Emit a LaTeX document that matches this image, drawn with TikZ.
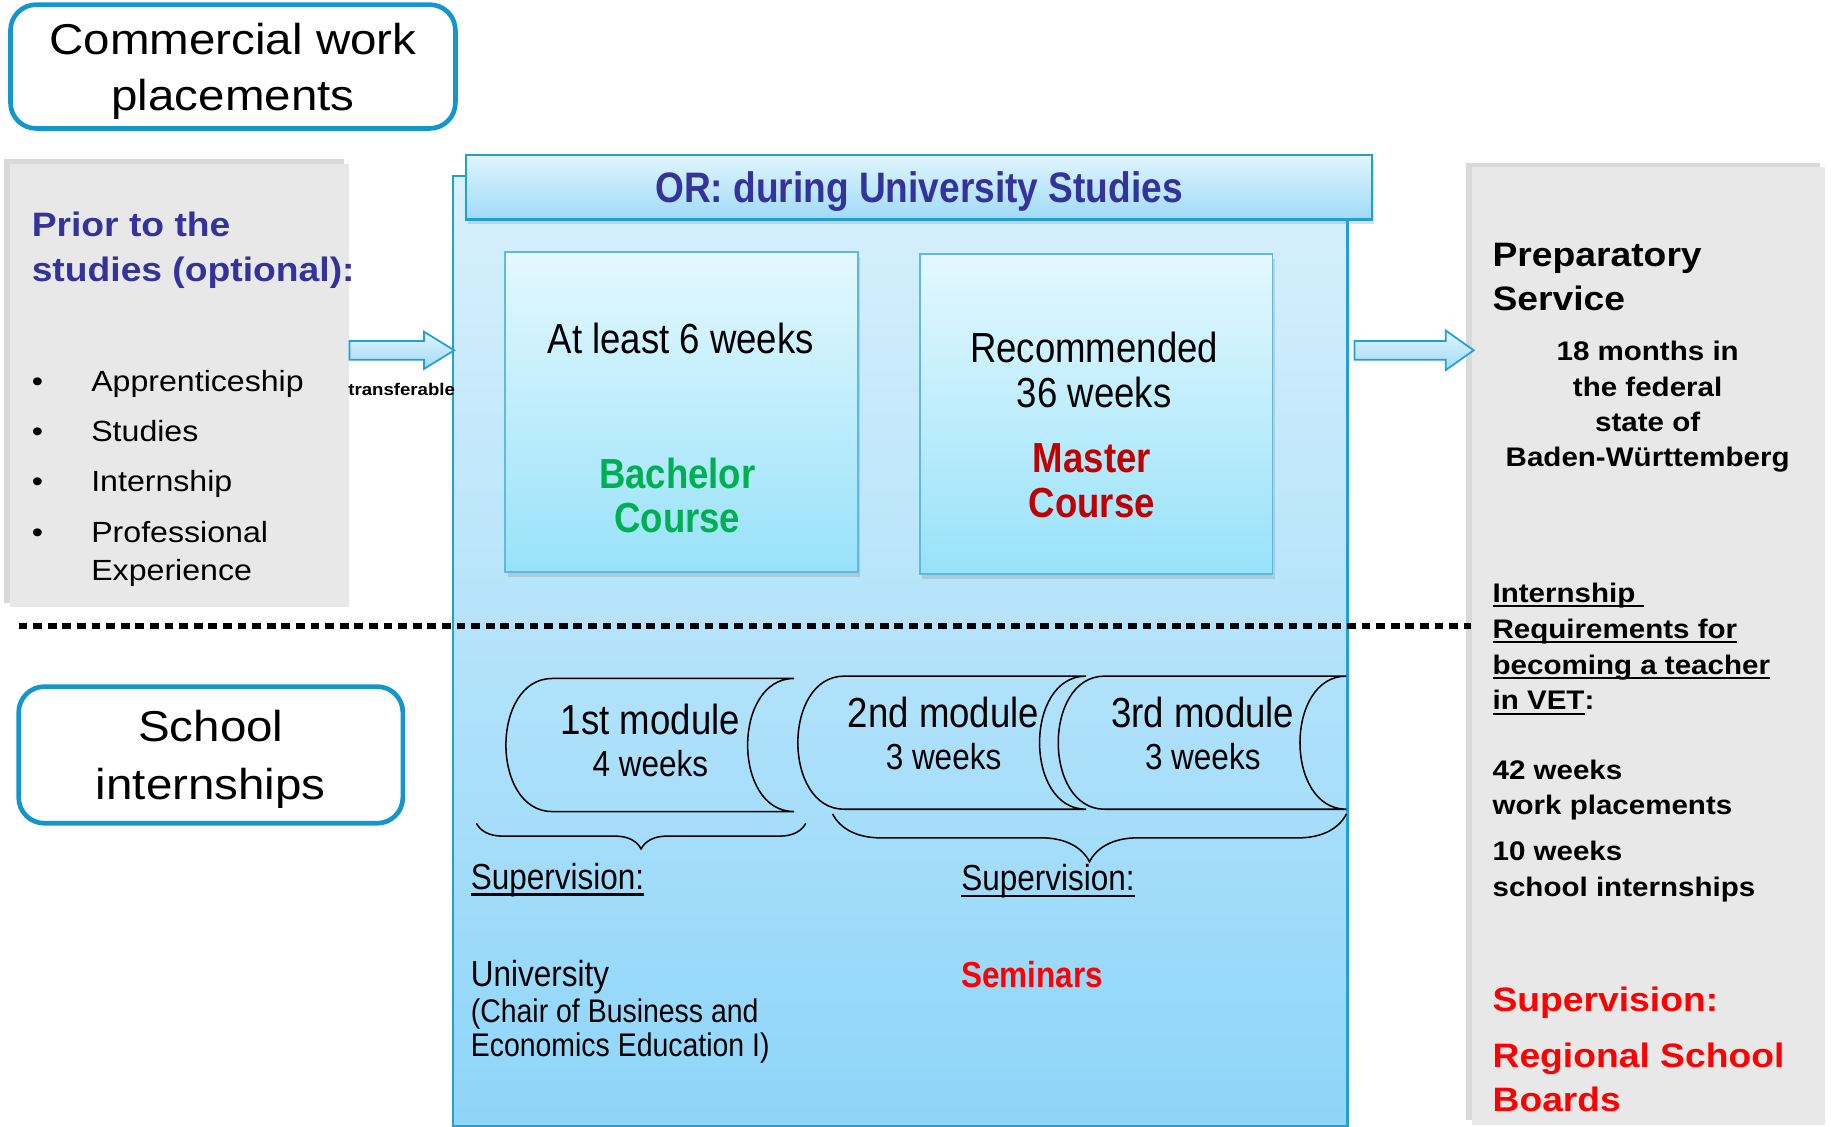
\documentclass[tikz,border=0pt]{standalone}
\usepackage{fontspec}
\setmainfont{Liberation Sans}
\newfontfamily\widefont[FakeStretch=1.1]{Liberation Sans}
\newfontfamily\narrowfont[FakeStretch=0.87]{Liberation Sans}
\usetikzlibrary{shadows,decorations.pathreplacing,calc}
\definecolor{boxblue}{RGB}{20,150,205}
\definecolor{uniline}{RGB}{35,160,210}
\definecolor{courseline}{RGB}{95,185,225}
\definecolor{unitop}{RGB}{216,240,252}
\definecolor{unibot}{RGB}{142,213,249}
\definecolor{headtop}{RGB}{224,245,254}
\definecolor{headbot}{RGB}{160,218,247}
\definecolor{coursetop}{RGB}{228,248,254}
\definecolor{coursebot}{RGB}{152,226,250}
\definecolor{headblue}{RGB}{51,51,153}
\definecolor{panelgrey}{RGB}{232,232,232}
\definecolor{bachgreen}{RGB}{0,176,80}
\definecolor{mastred}{RGB}{192,0,0}
\definecolor{supred}{RGB}{255,0,0}
\newcommand{\fs}[2]{\fontsize{#1}{#2}\selectfont}
\newsavebox\ulbox
\newcommand{\ulx}[1]{\sbox\ulbox{#1}\rlap{\rule[-0.17em]{\wd\ulbox}{0.07em}}\usebox\ulbox}

\begin{document}
\begin{tikzpicture}[x=1pt,y=-1pt,
  placebox/.style={draw=boxblue,line width=4pt,rounded corners=22pt,fill=white,align=center,inner sep=0pt,text depth=0pt},
  panel/.style={fill=panelgrey,anchor=north west,inner sep=0pt,drop shadow={shadow xshift=-5pt,shadow yshift=4pt,opacity=.3}},
  bluebox/.style={draw=uniline,line width=2pt,anchor=north west,inner sep=0pt},
  coursebox/.style={draw=courseline,line width=1.5pt,top color=coursetop,bottom color=coursebot,anchor=north west,inner sep=0pt,drop shadow={shadow xshift=2pt,shadow yshift=-4pt,opacity=.25}},
  blockarrow/.style={draw=uniline,line width=1.5pt,top color=headtop,bottom color=headbot},
  module/.style={draw=black,line width=1.3pt},
  bracket/.style={decorate,decoration={brace,mirror,amplitude=#1},line width=1.3pt},
  modtext/.style={anchor=north,align=center,inner sep=0pt,font=\narrowfont\fs{36}{36}}]
\useasboundingbox (0,0) rectangle (1568,965);

% left and right grey panels
\node[panel,minimum width=291pt,minimum height=380pt] (prior) at (8,140) {};
\node[panel,minimum width=303pt,minimum height=820pt] (prep) at (1260,143) {};

% university studies
\node[bluebox,top color=unitop,bottom color=unibot,minimum width=766pt,minimum height=813pt] (uni) at (387,150) {};
\node[bluebox,top color=headtop,bottom color=headbot,minimum width=776pt,minimum height=55pt,
  text=headblue,font=\narrowfont\bfseries\fs{36.5}{40},text depth=0pt,
  drop shadow={shadow xshift=2pt,shadow yshift=-4pt,opacity=.25}] (head) at (398,132) {OR: during University Studies};

\node[coursebox,minimum width=302pt,minimum height=274pt] (bachelor) at (432,215) {};
\node[coursebox,minimum width=302pt,minimum height=274pt] (master) at (787,217) {};
\node[anchor=base,inner sep=0pt,font=\narrowfont\fs{36}{39}] (least) at (583,303) {At least 6 weeks};
\node[anchor=north,align=center,inner sep=0pt,font=\narrowfont\fs{36}{39}] (recom) at (937,284) {Recommended\\36 weeks};
\node[anchor=north,align=center,inner sep=0pt,text=bachgreen,font=\narrowfont\bfseries\fs{36}{38}] (bachname) at (580,392) {Bachelor\\Course};
\node[anchor=north,align=center,inner sep=0pt,text=mastred,font=\narrowfont\bfseries\fs{36}{38}] (mastname) at (935,380) {Master\\Course};

% commercial / school boxes
\node[placebox,minimum width=381pt,minimum height=106pt,font=\widefont\fs{37}{48}] (commercial) at (199.5,57) {Commercial work\\placements};
\node[placebox,minimum width=329pt,minimum height=117pt,font=\widefont\fs{37}{49}] (school) at (180.5,646.5) {School\\internships};

% prior to the studies
\node[anchor=north west,align=left,inner sep=0pt,text=headblue,font=\widefont\bfseries\fs{29}{39}] (priortitle) at (27,181) {Prior to the\\studies (optional):};
\node[anchor=north west,align=left,inner sep=0pt,font=\widefont\fs{25}{43}] (priorlist) at (27,317)
  {\makebox[51pt][l]{•}Apprenticeship\\\makebox[51pt][l]{•}Studies\\\makebox[51pt][l]{•}Internship\\\makebox[51pt][l]{•}Professional\\[-10pt]\hspace*{51pt}Experience};
\node[anchor=base,inner sep=0pt,font=\widefont\bfseries\fs{14.5}{16}] (transfer) at (344,339) {transferable};

% arrows
\draw[blockarrow] (prior.east |- 0,292) -- ($(uni.west |- 0,292)+(-24,0)$) -- ($(uni.west |- 0,284)+(-24,0)$)
  -- ($(uni.west |- 0,300)+(2,0)$) -- ($(uni.west |- 0,316)+(-24,0)$) -- ($(uni.west |- 0,308)+(-24,0)$)
  -- (prior.east |- 0,308) -- cycle;
\draw[blockarrow] ($(uni.east |- 0,292)+(5,0)$) -- ($(prep.west |- 0,292)+(-22,0)$) -- ($(prep.west |- 0,283)+(-22,0)$)
  -- ($(prep.west |- 0,300)+(2,0)$) -- ($(prep.west |- 0,317)+(-22,0)$) -- ($(prep.west |- 0,308)+(-22,0)$)
  -- ($(uni.east |- 0,308)+(5,0)$) -- cycle;

% separator
\draw[line width=5pt,dash pattern=on 7.5pt off 5pt] (16,536) -- (prep.west |- 0,536);

% modules
\foreach \l/\t in {433/581, 683/579, 906/579}
  \draw[module] ({\l+40},\t) -- ({\l+247},\t)
    .. controls ({\l+194},\t) and ({\l+194},{\t+114}) .. ({\l+247},{\t+114})
    -- ({\l+40},{\t+114})
    .. controls ({\l-13},{\t+114}) and ({\l-13},\t) .. ({\l+40},\t) -- cycle;
\node[modtext] (mod1) at (557,603) {1st module\\{\fs{31}{36}4 weeks}};
\node[modtext] (mod2) at (808,597) {2nd module\\{\fs{31}{36}3 weeks}};
\node[modtext] (mod3) at (1030,597) {3rd module\\{\fs{31}{36}3 weeks}};

\coordinate (br1a) at (408,705);
\coordinate (br1b) at (690,705);
\coordinate (br2a) at (713,697);
\coordinate (br2b) at (1153,697);
\draw[bracket=22pt] (br1a) -- (br1b);
\draw[bracket=41pt] (br2a) -- (br2b);

% supervision
\node[anchor=base west,inner sep=0pt,font=\narrowfont\fs{31}{34}] (sup1) at (403,762) {\ulx{Supervision:}};
\node[anchor=base west,inner sep=0pt,font=\narrowfont\fs{31}{34}] (sup2) at (823,763) {\ulx{Supervision:}};
\node[anchor=base west,inner sep=0pt,font=\narrowfont\fs{31}{34}] (univ) at (403,845) {University};
\node[anchor=north west,align=left,inner sep=0pt,font=\narrowfont\fs{28}{29}] (chair) at (403,855) {(Chair of Business and\\Economics Education I)};
\node[anchor=base west,inner sep=0pt,text=supred,font=\narrowfont\bfseries\fs{31}{34}] (seminars) at (823,846) {Seminars};

% preparatory service
\node[anchor=north west,align=left,inner sep=0pt,font=\widefont\bfseries\fs{29}{38}] (preptitle) at (1278,208) {Preparatory\\Service};
\node[anchor=north,align=center,inner sep=0pt,font=\widefont\bfseries\fs{23}{30.3}] (months) at (1411,292) {18 months in\\the federal\\state of\\Baden-Württemberg};
\node[anchor=north west,align=left,inner sep=0pt,font=\widefont\bfseries\fs{23}{30.7}] (require) at (1278,499)
  {\ulx{Internship\ }\\\ulx{Requirements for}\\\ulx{becoming a teacher}\\\ulx{in VET}:};
\node[anchor=north west,align=left,inner sep=0pt,font=\widefont\bfseries\fs{23}{30}] (weeks42) at (1278,651) {42 weeks\\work placements};
\node[anchor=north west,align=left,inner sep=0pt,font=\widefont\bfseries\fs{23}{31}] (weeks10) at (1278,720) {10 weeks\\school internships};
\node[anchor=base west,inner sep=0pt,text=supred,font=\widefont\bfseries\fs{29}{38}] (sup3) at (1278,866) {Supervision:};
\node[anchor=north west,align=left,inner sep=0pt,text=supred,font=\widefont\bfseries\fs{29}{38}] (boards) at (1278,893) {Regional School\\Boards};
\end{tikzpicture}
\end{document}
